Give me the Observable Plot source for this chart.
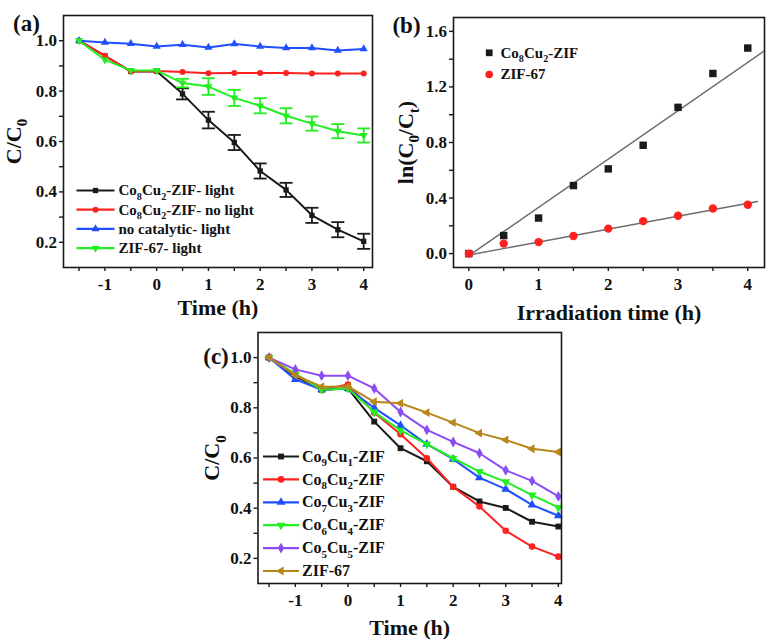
<!DOCTYPE html>
<html><head><meta charset="utf-8">
<script src="https://cdn.jsdelivr.net/npm/d3@7"></script>
<script src="https://cdn.jsdelivr.net/npm/@observablehq/plot@0.6"></script>
<style>
body{margin:0;background:#fff;}
#wrap{position:relative;width:774px;height:643px;overflow:hidden;background:#fff;}
#wrap svg{position:absolute;}
#wrap svg, #wrap svg text{font-family:"Liberation Serif","Times New Roman",Times,serif !important;font-weight:bold;}
</style></head><body><div id="wrap"></div>
<script>
// ---------- data ----------
const timeA = [-1.5,-1,-0.5,0,0.5,1,1.5,2,2.5,3,3.5,4];
const aCo8Cu2Light    = [1.0,0.94,0.878,0.879,0.789,0.685,0.596,0.483,0.408,0.307,0.25,0.204];
const aCo8Cu2LightErr = [0,0,0,0,0.022,0.033,0.03,0.03,0.028,0.03,0.03,0.03];
const aCo8Cu2Dark     = [1.0,0.94,0.878,0.88,0.876,0.871,0.872,0.872,0.872,0.870,0.870,0.870];
const aNoCatLight     = [1.0,0.993,0.988,0.977,0.984,0.973,0.987,0.977,0.971,0.971,0.961,0.967];
const aZIF67Light     = [1.0,0.924,0.882,0.882,0.832,0.818,0.773,0.742,0.702,0.671,0.641,0.624];
const aZIF67LightErr  = [0,0,0,0,0.017,0.033,0.032,0.03,0.03,0.028,0.028,0.028];

const timeB = [0,0.5,1,1.5,2,2.5,3,3.5,4];
const bCo8Cu2 = [0,0.13,0.256,0.49,0.61,0.78,1.053,1.297,1.48];
const bZIF67  = [0,0.072,0.083,0.127,0.18,0.234,0.273,0.325,0.352];
// linear fits (slope, intercept, x range)
const fitCo8Cu2 = {slope:0.348, intercept:-0.015, x0:0, x1:4.24};
const fitZIF67  = {slope:0.093, intercept:-0.01, x0:0, x1:4.14};

const timeC = [-1.5,-1,-0.5,0,0.5,1,1.5,2,2.5,3,3.5,4];
const cCo9Cu1 = [1.0,0.925,0.872,0.877,0.745,0.639,0.587,0.485,0.427,0.401,0.346,0.327];
const cCo8Cu2 = [1.0,0.93,0.872,0.893,0.78,0.695,0.599,0.485,0.407,0.31,0.247,0.207];
const cCo7Cu3 = [1.0,0.913,0.872,0.877,0.80,0.73,0.655,0.595,0.522,0.476,0.413,0.37];
const cCo6Cu4 = [1.0,0.935,0.872,0.877,0.783,0.71,0.655,0.599,0.546,0.505,0.452,0.403];
const cCo5Cu5 = [1.0,0.953,0.928,0.928,0.877,0.783,0.712,0.664,0.619,0.551,0.509,0.447];
const cZIF67  = [1.0,0.93,0.884,0.885,0.824,0.818,0.781,0.741,0.699,0.672,0.637,0.624];

const xMajorAC = [-1,0,1,2,3,4];
const xMinorAC = [-1.5,-0.5,0.5,1.5,2.5,3.5];
const yMajorAC = [0.2,0.4,0.6,0.8,1.0];
const yMinorAC = [0.3,0.5,0.7,0.9];
const xMajorB = [0,1,2,3,4];
const xMinorB = [0.5,1.5,2.5,3.5];
const yMajorB = [0,0.4,0.8,1.2,1.6];
const yMinorB = [0.2,0.6,1.0,1.4];

// ---------- styles ----------
const FONT = '"Liberation Serif","Times New Roman",Times,serif';
const INK = "#1a1a1a";
const C_BLACK="#1a1a1a", C_RED="#ff2020", C_BLUE="#1f4fff", C_GREEN="#22ee22", C_PURPLE="#8a4cf5", C_OLIVE="#b8861a";

function hline(w){ return {draw(ctx){ ctx.moveTo(-w,0); ctx.lineTo(w,0); }}; }
const sqrt3 = Math.sqrt(3);
const triDown = {draw(ctx,size){ const y=-Math.sqrt(size/(sqrt3*3)); ctx.moveTo(0,-2*y); ctx.lineTo(-sqrt3*y,y); ctx.lineTo(sqrt3*y,y); ctx.closePath(); }};
const triLeft = {draw(ctx,size){ const y=-Math.sqrt(size/(sqrt3*3)); ctx.moveTo(2*y,0); ctx.lineTo(-y,sqrt3*y); ctx.lineTo(-y,-sqrt3*y); ctx.closePath(); }};

const rows = (xs, ys, es) => xs.map((x,i)=>({x, y: ys[i], e: es ? es[i] : 0}));
const fmt1 = d => d.toFixed(1);
const fmtInt = d => String(d);

function axes(xMajor,xMinor,yMajor,yMinor,xFmt,yFmt){
  const common = {tickSize:4, stroke:INK, strokeWidth:1.4, fill:"#111", fontSize:17, label:null};
  return [
    Plot.axisX(xMajor, {...common, tickPadding:6, tickFormat:xFmt}),
    Plot.axisX(xMinor, {...common, tickPadding:6, tickFormat:()=>""}),
    Plot.axisY(yMajor, {...common, tickPadding:2.5, tickFormat:yFmt}),
    Plot.axisY(yMinor, {...common, tickPadding:2.5, tickFormat:()=>""}),
    Plot.frame({stroke:INK, strokeWidth:1.6})
  ];
}
function titles(panel, xTitle, xdy, yTitle, ydx, pdx, pdy, fs){
  return [
    Plot.text([xTitle], {text:d=>d, frameAnchor:"bottom", dy:xdy, fontSize:fs, lineAnchor:"middle", fill:"#111"}),
    Plot.text([yTitle], {text:d=>d, frameAnchor:"left", dx:ydx, rotate:-90, fontSize:fs, lineAnchor:"middle", textAnchor:"middle", fill:"#111"}),
    Plot.text([panel], {text:d=>d, frameAnchor:"top-left", dx:pdx, dy:pdy, fontSize:23, lineAnchor:"middle", textAnchor:"middle", fill:"#111"})
  ];
}
function legendRows(items, {anchorDx, lineHalf, textDx, dy0, step, fs, r, withLine}){
  const m = [];
  items.forEach((it,i)=>{
    const dy = dy0 + i*step;
    if (withLine) m.push(Plot.dot([0], {frameAnchor:"top-left", dx:anchorDx, dy, symbol:hline(lineHalf), stroke:it.color, strokeWidth:2.2, fill:"none"}));
    m.push(Plot.dot([0], {frameAnchor:"top-left", dx:anchorDx, dy, symbol:it.symbol, r, fill:it.color, stroke:"none"}));
    m.push(Plot.text([it.name], {text:d=>d, frameAnchor:"top-left", dx:textDx, dy, textAnchor:"start", lineAnchor:"middle", fontSize:fs, fill:"#111"}));
  });
  return m;
}
function seriesMarks(list, xs, r, sw){
  const m = [];
  list.forEach(s=>{
    const data = rows(xs, s.ys, s.err);
    m.push(Plot.line(data, {x:"x", y:"y", stroke:s.color, strokeWidth:sw}));
    m.push(Plot.dot(data, {x:"x", y:"y", symbol:s.symbol, r, fill:s.color, stroke:"none"}));
    if (s.err){
      const ed = data.filter(d=>d.e>0);
      m.push(Plot.ruleX(ed, {x:"x", y1:d=>d.y-d.e, y2:d=>d.y+d.e, stroke:s.color, strokeWidth:1.8}));
      m.push(Plot.dot(ed, {x:"x", y:d=>d.y+d.e, symbol:hline(6.5), stroke:s.color, strokeWidth:1.8, fill:"none"}));
      m.push(Plot.dot(ed, {x:"x", y:d=>d.y-d.e, symbol:hline(6.5), stroke:s.color, strokeWidth:1.8, fill:"none"}));
    }
  });
  return m;
}

const wrap = document.getElementById("wrap");
function place(svg, left, top){
  svg.style.left = left+"px"; svg.style.top = top+"px";
  svg.setAttribute("font-family", FONT);
  wrap.appendChild(svg);
  subify(svg);
}
function subify(svg){
  d3.select(svg).selectAll("text").each(function(){
    const el = this;
    el.setAttribute("font-family", FONT);
    if (el.querySelector("tspan")) return;
    const t = el.textContent;
    if (t === "") { el.remove(); return; }
    if (!t.includes("_")) return;
    const fs = parseFloat(getComputedStyle(el).fontSize) || 16;
    const shift = 0.3*fs;
    el.textContent = "";
    let lowered = false;
    t.split(/(_.)/).forEach(p=>{
      if (!p) return;
      const ts = d3.select(el).append("tspan");
      if (p[0] === "_"){
        ts.text(p[1]).attr("font-size", (0.68*fs)+"px").attr("dy", lowered ? 0 : shift);
        lowered = true;
      } else {
        ts.text(p);
        if (lowered){ ts.attr("dy", -shift); lowered = false; }
      }
    });
  });
}
const baseStyle = {fontFamily:FONT, fontWeight:"bold", background:"transparent", overflow:"visible"};

// ---------- panel (a) ----------
const seriesA = [
  {name:"Co_8Cu_2-ZIF- light", ys:aCo8Cu2Light, err:aCo8Cu2LightErr, color:C_BLACK, symbol:"square"},
  {name:"Co_8Cu_2-ZIF- no light", ys:aCo8Cu2Dark, color:C_RED, symbol:"circle"},
  {name:"no catalytic- light", ys:aNoCatLight, color:C_BLUE, symbol:"triangle"},
  {name:"ZIF-67- light", ys:aZIF67Light, err:aZIF67LightErr, color:C_GREEN, symbol:triDown}
];
place(Plot.plot({
  width:387, height:320, marginLeft:63, marginRight:15, marginTop:15, marginBottom:53,
  style:baseStyle,
  x:{domain:[-1.8,4.17]}, y:{domain:[0.1,1.1]},
  marks:[
    ...seriesMarks(seriesA, timeA, 3, 2),
    ...legendRows(seriesA, {anchorDx:32, lineHalf:19, textDx:55, dy0:175, step:19.2, fs:15, r:3, withLine:true}),
    ...axes(xMajorAC,xMinorAC,yMajorAC,yMinorAC,fmtInt,fmt1),
    ...titles("(a)", "Time (h)", 40, "C/C_0", -50, -37, 8, 22)
  ]
}), 0, 0);

// ---------- panel (b) ----------
const seriesB = [
  {name:"Co_8Cu_2-ZIF", ys:bCo8Cu2, color:C_BLACK, symbol:"square", fit:fitCo8Cu2},
  {name:"ZIF-67", ys:bZIF67, color:C_RED, symbol:"circle", fit:fitZIF67}
];
const fitLine = f => [f.x0, f.x1].map(x=>({x, y: f.intercept + f.slope*x}));
place(Plot.plot({
  width:387, height:320, marginLeft:66, marginRight:10, marginTop:17, marginBottom:53,
  style:baseStyle,
  x:{domain:[-0.22,4.24]}, y:{domain:[-0.1,1.7]},
  marks:[
    ...seriesB.map(s=>Plot.line(fitLine(s.fit), {x:"x", y:"y", stroke:"#6b6b6b", strokeWidth:1.4})),
    ...seriesB.map(s=>Plot.dot(rows(timeB, s.ys), {x:"x", y:"y", symbol:s.symbol, r:4.2, fill:s.color, stroke:"none"})),
    ...legendRows(seriesB, {anchorDx:35.7, lineHalf:0, textDx:47, dy0:35.3, step:21.7, fs:15, r:3.8, withLine:false}),
    ...axes(xMajorB,xMinorB,yMajorB,yMinorB,fmtInt,fmt1),
    ...titles("(b)", "Irradiation time (h)", 45, "ln(C_0/C_t)", -48, -47, 8, 22)
  ]
}), 387, 0);

// ---------- panel (c) ----------
const seriesC = [
  {name:"Co_9Cu_1-ZIF", ys:cCo9Cu1, color:C_BLACK, symbol:"square"},
  {name:"Co_8Cu_2-ZIF", ys:cCo8Cu2, color:C_RED, symbol:"circle"},
  {name:"Co_7Cu_3-ZIF", ys:cCo7Cu3, color:C_BLUE, symbol:"triangle"},
  {name:"Co_6Cu_4-ZIF", ys:cCo6Cu4, color:C_GREEN, symbol:triDown},
  {name:"Co_5Cu_5-ZIF", ys:cCo5Cu5, color:C_PURPLE, symbol:"diamond"},
  {name:"ZIF-67", ys:cZIF67, color:C_OLIVE, symbol:triLeft}
];
place(Plot.plot({
  width:400, height:323, marginLeft:67.5, marginRight:29, marginTop:12, marginBottom:60,
  style:baseStyle,
  x:{domain:[-1.71,4.06]}, y:{domain:[0.1,1.1]},
  marks:[
    ...seriesMarks(seriesC, timeC, 3.3, 2),
    ...legendRows(seriesC, {anchorDx:23, lineHalf:18, textDx:44, dy0:124, step:22.9, fs:16, r:3.3, withLine:true}),
    ...axes(xMajorAC,xMinorAC,yMajorAC,yMinorAC,fmtInt,fmt1),
    ...titles("(c)", "Time (h)", 44, "C/C_0", -46, -42, 24, 22)
  ]
}), 190, 320);
</script>
</body></html>
